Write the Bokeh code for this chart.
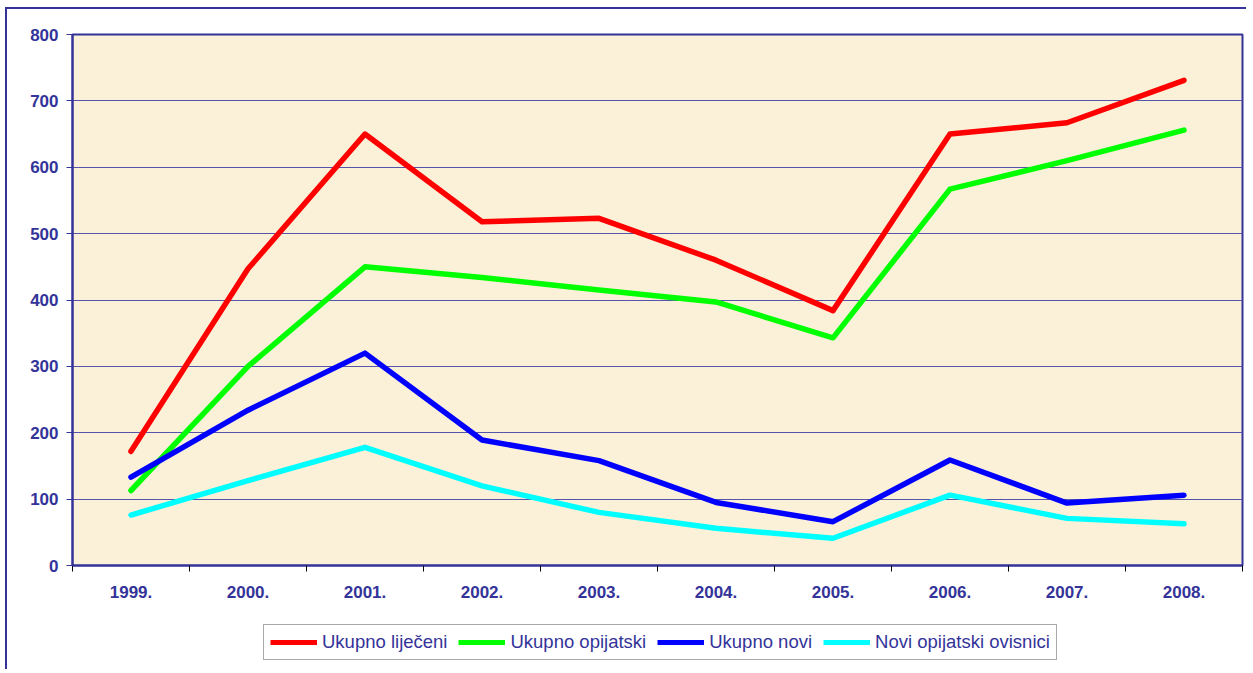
from bokeh.plotting import figure
from bokeh.layouts import column
from bokeh.models import Range1d, FixedTicker, Legend, LegendItem, InlineStyleSheet
from bokeh.embed import file_html
from bokeh.resources import INLINE

years = ["1999.", "2000.", "2001.", "2002.", "2003.", "2004.", "2005.", "2006.", "2007.", "2008."]
ukupno_lijeceni = [172, 447, 650, 518, 523, 460, 384, 650, 667, 731]
ukupno_opijatski = [113, 300, 450, 434, 415, 397, 343, 567, 610, 656]
ukupno_novi = [133, 234, 320, 189, 158, 95, 66, 159, 94, 106]
novi_opijatski_ovisnici = [76, 128, 178, 120, 80, 56, 41, 106, 71, 63]

series_names = ["Ukupno liječeni", "Ukupno opijatski", "Ukupno novi", "Novi opijatski ovisnici"]
series_values = [ukupno_lijeceni, ukupno_opijatski, ukupno_novi, novi_opijatski_ovisnici]
series_colors = ["#FF0000", "#00FF00", "#0000FF", "#00FFFF"]
y_ticks = [0, 100, 200, 300, 400, 500, 600, 700, 800]

DARK = "#333399"
FONT = "Liberation Sans"

n = len(years)
centers = [i + 0.5 for i in range(n)]
bounds = [float(i) for i in range(n + 1)]

p = figure(frame_width=1170, frame_height=531, output_backend="svg", toolbar_location=None,
           x_range=Range1d(0, n), y_range=Range1d(y_ticks[0], y_ticks[-1]),
           min_border_left=65, min_border_top=25, min_border_right=4, min_border_bottom=40)

p.background_fill_color = "#FBF0D8"
p.border_fill_color = "white"
p.outline_line_color = DARK
p.outline_line_width = 2

# grid
p.xgrid.grid_line_color = None
p.ygrid.ticker = FixedTicker(ticks=y_ticks)
p.ygrid.grid_line_color = "#5555AA"
p.ygrid.grid_line_width = 1

# y axis
p.yaxis.ticker = FixedTicker(ticks=y_ticks)
p.yaxis.axis_line_color = DARK
p.yaxis.axis_line_width = 2
p.yaxis.major_tick_line_color = DARK
p.yaxis.major_tick_out = 6
p.yaxis.major_tick_in = 0
p.yaxis.minor_tick_line_color = None
p.yaxis.major_label_text_font = FONT
p.yaxis.major_label_text_font_style = "bold"
p.yaxis.major_label_text_font_size = "17px"
p.yaxis.major_label_text_color = DARK
p.yaxis.major_label_standoff = 8

# x axis
p.xaxis.ticker = FixedTicker(ticks=centers, minor_ticks=bounds)
p.xaxis.major_label_overrides = {c: y for c, y in zip(centers, years)}
p.xaxis.axis_line_color = DARK
p.xaxis.axis_line_width = 2
p.xaxis.major_tick_line_color = None
p.xaxis.major_tick_out = 0
p.xaxis.major_tick_in = 0
p.xaxis.minor_tick_line_color = "black"
p.xaxis.minor_tick_out = 6
p.xaxis.minor_tick_in = 0
p.xaxis.major_label_text_font = FONT
p.xaxis.major_label_text_font_style = "bold"
p.xaxis.major_label_text_font_size = "17px"
p.xaxis.major_label_text_color = DARK
p.xaxis.major_label_standoff = 14

for vals, col in zip(series_values, series_colors):
    p.line(centers, vals, line_color=col, line_width=5.5, line_cap="round", line_join="round")

# legend strip below the chart
lf = figure(width=1239, height=64, output_backend="svg", toolbar_location=None,
            x_axis_type=None, y_axis_type=None,
            x_range=Range1d(0, 1), y_range=Range1d(0, 1), min_border=0)
lf.outline_line_color = None
lf.background_fill_color = "white"
lf.border_fill_color = "white"
lf.grid.visible = False

items = []
for name, vals, col in zip(series_names, series_values, series_colors):
    r = lf.line(centers, vals, line_color=col, line_width=5, visible=False)
    items.append(LegendItem(label=name, renderers=[r]))

legend = Legend(items=items, orientation="horizontal", location=(191, 9),
                label_text_font=FONT, label_text_font_size="18.5px", label_text_color=DARK,
                label_standoff=5, spacing=11, glyph_width=47, glyph_height=20,
                padding=6, margin=0, border_line_color="#555555", border_line_width=1,
                background_fill_color="white", background_fill_alpha=1.0,
                click_policy="none")
lf.add_layout(legend, "center")

layout = column(p, lf, spacing=0)
layout.stylesheets = [InlineStyleSheet(css=":host { border-top: 2px solid #333399; border-left: 2px solid #333399; margin-left: 5px; margin-top: 7px; }")]

open("out.html", "w").write(file_html(layout, INLINE))
